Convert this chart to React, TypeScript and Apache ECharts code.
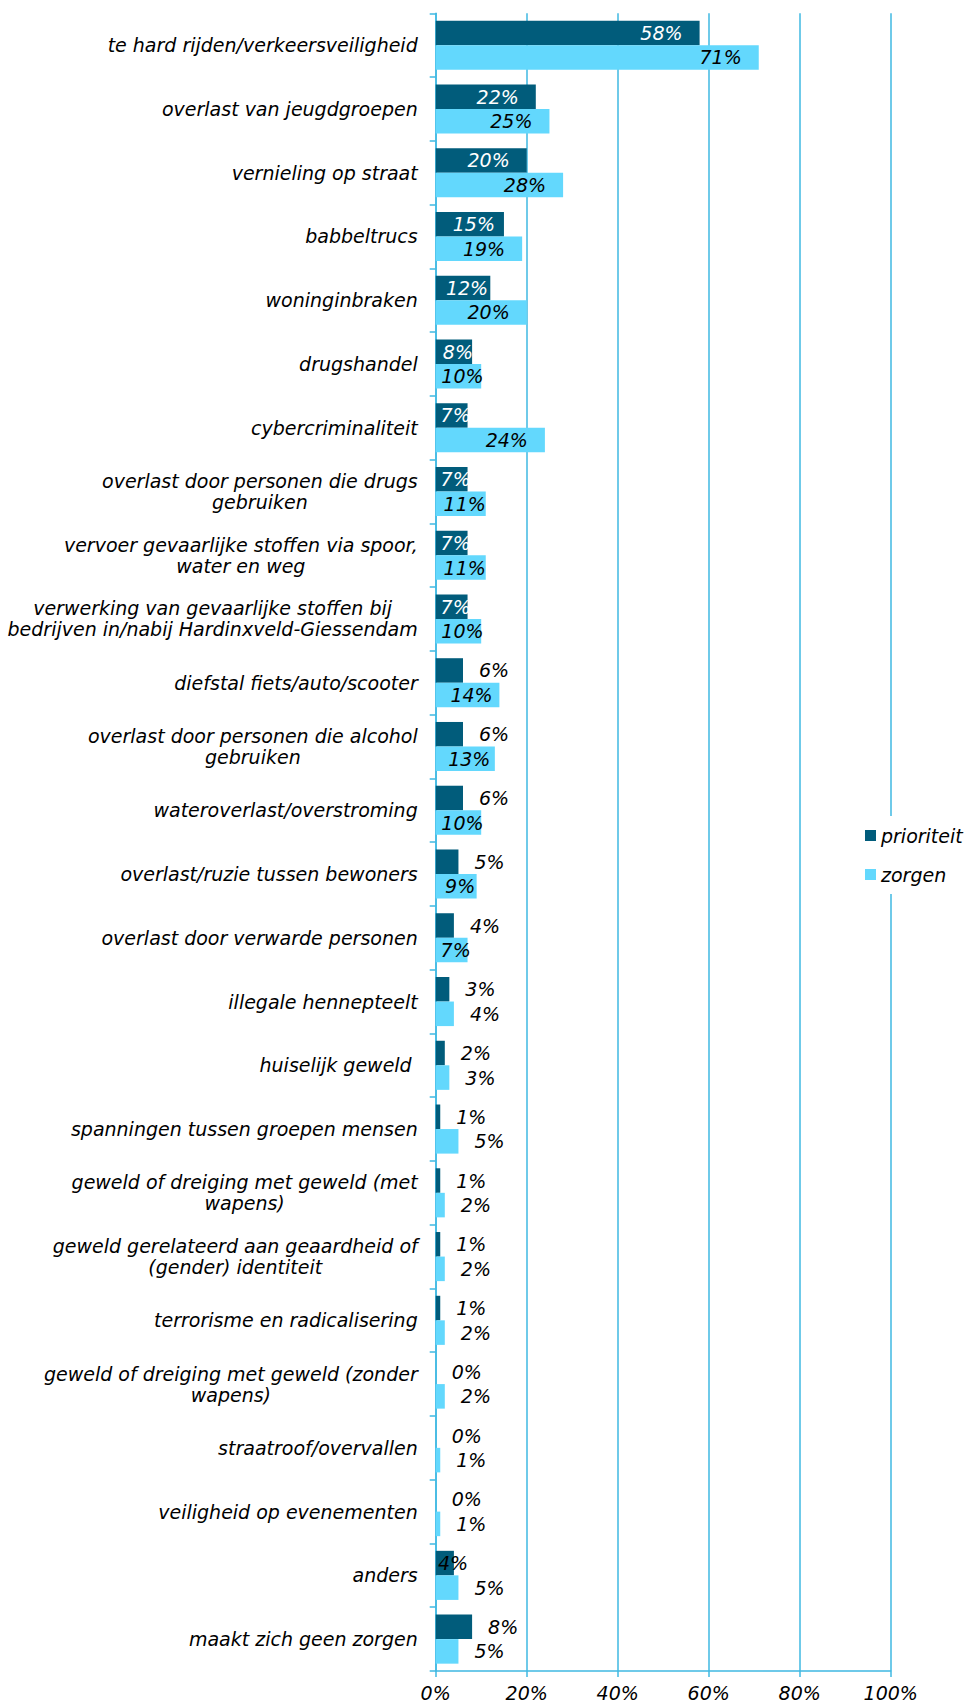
import React, { useEffect, useRef } from 'react';
import * as echarts from 'echarts';

const categories = [
  'te hard rijden/verkeersveiligheid',
  'overlast van jeugdgroepen',
  'vernieling op straat',
  'babbeltrucs',
  'woninginbraken',
  'drugshandel',
  'cybercriminaliteit',
  'overlast door personen die drugs\ngebruiken',
  'vervoer gevaarlijke stoffen via spoor,\nwater en weg',
  'verwerking van gevaarlijke stoffen bij\nbedrijven in/nabij Hardinxveld-Giessendam',
  'diefstal fiets/auto/scooter',
  'overlast door personen die alcohol\ngebruiken',
  'wateroverlast/overstroming',
  'overlast/ruzie tussen bewoners',
  'overlast door verwarde personen',
  'illegale hennepteelt',
  'huiselijk geweld ',
  'spanningen tussen groepen mensen',
  'geweld of dreiging met geweld (met\nwapens)',
  'geweld gerelateerd aan geaardheid of\n(gender) identiteit',
  'terrorisme en radicalisering',
  'geweld of dreiging met geweld (zonder\nwapens)',
  'straatroof/overvallen',
  'veiligheid op evenementen',
  'anders',
  'maakt zich geen zorgen',
];

const prioriteit = [58, 22, 20, 15, 12, 8, 7, 7, 7, 7, 6, 6, 6, 5, 4, 3, 2, 1, 1, 1, 1, 0, 0, 0, 4, 8];
const zorgen = [71, 25, 28, 19, 20, 10, 24, 11, 11, 10, 14, 13, 10, 9, 7, 4, 3, 5, 2, 2, 2, 2, 1, 1, 5, 5];

const seriesNames = ['prioriteit', 'zorgen'];
const xTickValues = [0, 20, 40, 60, 80, 100];

const FONT = 'DejaVu Sans';
const FS = 19;
const DARK = '#015C7B';
const LIGHT = '#63D8FD';
const GRIDC = '#3FB8E2';

// label placement exceptions (styling only)
const labelExceptions = [
  { series: 0, cat: 24, mode: 'overlap', distance: -16 },
  { series: 0, cat: 25, mode: 'outside', distance: 16 },
];

function labelFor(v: number, s: number, c: number) {
  const exc = labelExceptions.find((e) => e.series === s && e.cat === c);
  let mode = v >= 19 ? 'end' : v >= 7 ? 'inside' : 'outside';
  let distance = 16;
  if (exc) {
    mode = exc.mode;
    distance = exc.distance;
  }
  const base: any = {
    show: true,
    fontFamily: FONT,
    fontStyle: 'italic',
    fontSize: FS,
    overflow: 'none',
  };
  if (mode === 'end') {
    return { ...base, position: 'insideRight', distance: 17, color: s === 0 ? '#ffffff' : '#000000' };
  }
  if (mode === 'inside') {
    return { ...base, position: 'inside', offset: [4, 0], color: s === 0 ? '#ffffff' : '#000000' };
  }
  if (mode === 'overlap') {
    return { ...base, position: 'right', distance, color: '#000000' };
  }
  return { ...base, position: 'right', distance, color: '#000000' };
}

export default function App() {
  const ref = useRef<HTMLDivElement>(null);
  useEffect(() => {
    if (!ref.current) return;
    const chart = echarts.init(ref.current, undefined, { renderer: 'svg' });
    const seriesData = [prioriteit, zorgen];
    const colors = [DARK, LIGHT];
    chart.setOption({
      animation: false,
      backgroundColor: '#ffffff',
      textStyle: { fontFamily: FONT },
      grid: { left: 435.7, top: 13.3, right: 73.3, bottom: 35, containLabel: false },
      legend: {
        orient: 'vertical',
        left: 860,
        top: 816,
        padding: [10, 5, 10, 5],
        backgroundColor: '#ffffff',
        itemWidth: 11,
        itemHeight: 11,
        itemGap: 20,
        icon: 'rect',
        textStyle: { fontFamily: FONT, fontStyle: 'italic', fontSize: FS, color: '#000000' },
        data: seriesNames,
      },
      xAxis: {
        type: 'value',
        min: xTickValues[0],
        max: xTickValues[xTickValues.length - 1],
        interval: xTickValues[1] - xTickValues[0],
        axisLine: { show: true, lineStyle: { color: GRIDC, width: 1.5 } },
        axisTick: { show: true, length: 6, lineStyle: { color: GRIDC, width: 1.5 } },
        splitLine: { show: true, lineStyle: { color: GRIDC, width: 1.5 } },
        axisLabel: {
          formatter: '{value}%',
          fontFamily: FONT,
          fontStyle: 'italic',
          fontSize: FS,
          color: '#000000',
          margin: 12,
        },
      },
      yAxis: {
        type: 'category',
        inverse: true,
        data: categories,
        axisLine: { show: true, lineStyle: { color: GRIDC, width: 1.5 } },
        axisTick: { show: true, length: 6, lineStyle: { color: GRIDC, width: 1.5 } },
        splitLine: { show: false },
        axisLabel: {
          margin: 18,
          fontFamily: FONT,
          fontStyle: 'italic',
          fontSize: FS,
          color: '#000000',
          lineHeight: 21,
          formatter: (val: string) =>
            val
              .split('\n')
              .map((l) => `{c|${l}}`)
              .join('\n'),
          rich: {
            c: {
              align: 'center',
              fontFamily: FONT,
              fontStyle: 'italic',
              fontSize: FS,
              color: '#000000',
              lineHeight: 21,
            },
          },
        },
      },
      series: seriesNames.map((name, s) => ({
        name,
        type: 'bar',
        barGap: '0%',
        barCategoryGap: '23%',
        itemStyle: { color: colors[s] },
        label: { show: true, formatter: '{c}%' },
        data: seriesData[s].map((v, c) => ({ value: v, label: labelFor(v, s, c) })),
      })),
    });
    return () => chart.dispose();
  }, []);
  return (
    <div
      ref={ref}
      style={{ position: 'absolute', left: 0, top: 0, width: 964, height: 1706 }}
    />
  );
}
